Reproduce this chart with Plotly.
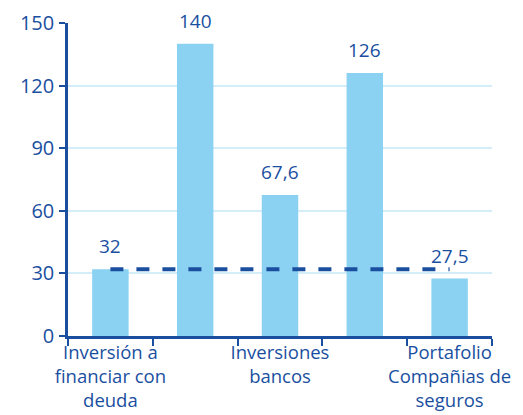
import plotly.graph_objects as go

categories = ["Inversión a<br>financiar con<br>deuda", " ", "Inversiones<br>bancos", "  ",
              "Portafolio<br>Compañias de<br>seguros"]
values = [32, 140, 67.6, 126, 27.5]
reference_level = 32
y_ticks = [0, 30, 60, 90, 120, 150]

DARK = "#1a4f9f"
BAR = "#8bd1f2"
GRID = "#d3edf9"
FONT = "Open Sans"

fig = go.Figure()
fig.add_trace(go.Bar(
    x=categories, y=values, marker=dict(color=BAR, line=dict(width=0)),
    width=0.43, hoverinfo="skip",
))
fig.add_trace(go.Scatter(
    x=[categories[0], categories[-1]], y=[reference_level, reference_level],
    mode="lines", line=dict(color=DARK, width=4, dash="13px,13px"),
    hoverinfo="skip",
))
for c, v in zip(categories, values):
    fig.add_annotation(x=c, y=v, text=f"{v:g}".replace(".", ","), showarrow=False,
                       yanchor="bottom", yshift=8,
                       font=dict(family=FONT, size=19, color=DARK))

fig.update_layout(
    width=515, height=407, showlegend=False,
    margin=dict(l=60, r=31, t=15, b=79),
    plot_bgcolor="white", paper_bgcolor="white",
    font=dict(family=FONT, size=19, color=DARK),
)
fig.update_xaxes(
    type="category", tickson="boundaries", ticks="outside", ticklen=7, tickwidth=2,
    tickcolor=DARK, showline=True, linecolor=DARK, linewidth=2.5, showgrid=False,
    tickfont=dict(family=FONT, size=18.5, color=DARK), range=[-0.5, 4.5],
    tickangle=0, automargin=False, ticklabelstandoff=-2,
)
fig.update_yaxes(
    range=[0, 150], tickvals=y_ticks, ticks="outside", ticklen=6, tickwidth=2,
    tickcolor=DARK, showline=True, linecolor=DARK, linewidth=2.5,
    gridcolor=GRID, gridwidth=1.5, zeroline=False, automargin=False,
    tickfont=dict(family=FONT, size=20, color=DARK), ticklabelstandoff=1,
)
fig.write_html("out.html")
